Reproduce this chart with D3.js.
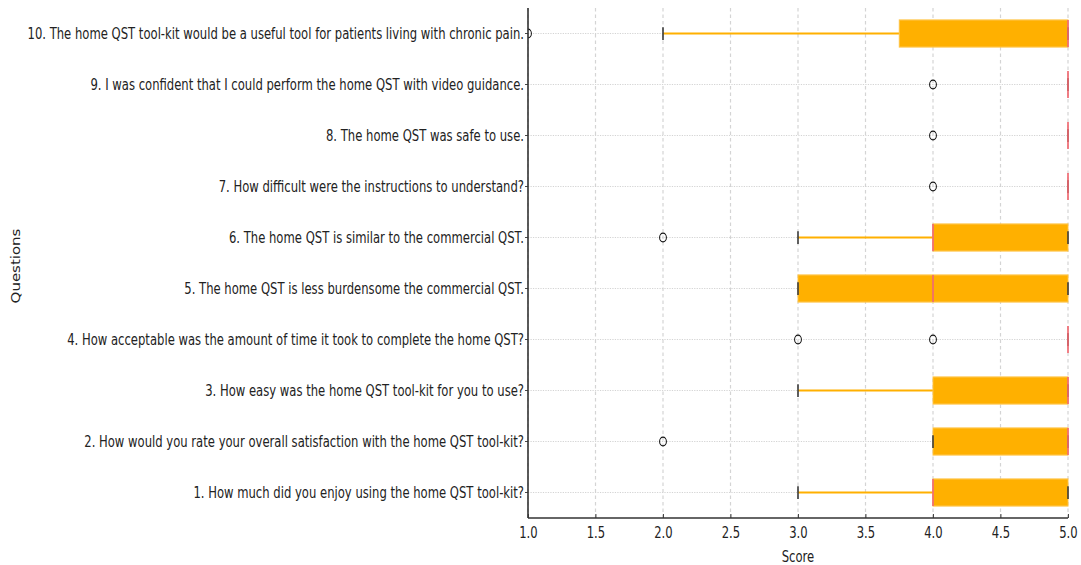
<!DOCTYPE html>
<html>
<head>
<meta charset="utf-8">
<script src="https://cdn.jsdelivr.net/npm/d3@7"></script>
<style>
  html, body { margin: 0; padding: 0; background: #fff; }
  svg { display: block; }
  text { font-family: "DejaVu Sans", sans-serif; fill: #222; }
</style>
</head>
<body>
<svg id="chart" width="1081" height="565"></svg>
<script>
// Survey questions, bottom to top as drawn (question 1 at the bottom)
const questions = [
  "1. How much did you enjoy using the home QST tool-kit?",
  "2. How would you rate your overall satisfaction with the home QST tool-kit?",
  "3. How easy was the home QST tool-kit for you to use?",
  "4. How acceptable was the amount of time it took to complete the home QST?",
  "5. The home QST is less burdensome the commercial QST.",
  "6. The home QST is similar to the commercial QST.",
  "7. How difficult were the instructions to understand?",
  "8. The home QST was safe to use.",
  "9. I was confident that I could perform the home QST with video guidance.",
  "10. The home QST tool-kit would be a useful tool for patients living with chronic pain."
];

// Box-plot statistics per question (same order as above)
const whiskerLow  = [3, 4, 3, 5, 3, 3, 5, 5, 5, 2];
const q1          = [4, 4, 4, 5, 3, 4, 5, 5, 5, 3.75];
const median      = [4, 5, 5, 5, 4, 4, 5, 5, 5, 5];
const q3          = [5, 5, 5, 5, 5, 5, 5, 5, 5, 5];
const whiskerHigh = [5, 5, 5, 5, 5, 5, 5, 5, 5, 5];
const outliers    = [[], [2], [], [3, 4], [], [2], [4], [4], [4], [1]];

const xTicks = [1.0, 1.5, 2.0, 2.5, 3.0, 3.5, 4.0, 4.5, 5.0];

const svg = d3.select("#chart");
const FONT = 15;

// Horizontal compression of the whole figure: the longest question label
// is fitted into the space left of the axis.
const probe = svg.append("text").style("font-size", FONT + "px").text(questions[9]);
const probeW = probe.node().getComputedTextLength();
probe.remove();
const labelLeft = 26, labelRight = 523;
const k = (labelRight - labelLeft) / probeW;

// Figure geometry (screen pixels), converted into the stretched space
const plotLeft = 528, plotRight = 1068, plotTop = 8, plotBottom = 518;
const X = v => v / k;

const root = svg.append("g").attr("transform", `scale(${k},1)`);

const rows = d3.range(questions.length);
const y = d3.scaleBand()
  .domain(rows.map(i => questions[i]).reverse())
  .range([plotTop, plotBottom])
  .paddingInner(0).paddingOuter(0);
const yc = i => y(questions[i]) + y.bandwidth() / 2;

const x = d3.scaleLinear().domain([1, 5]).range([X(plotLeft), X(plotRight)]);

const boxH = y.bandwidth() * 0.53;
const capH = y.bandwidth() * 0.25;

// Grid
const grid = root.append("g");
grid.selectAll("line.vgrid").data(xTicks).join("line")
  .attr("x1", d => x(d)).attr("x2", d => x(d))
  .attr("y1", plotTop).attr("y2", plotBottom)
  .attr("stroke", "#d4d4d4").attr("stroke-width", 1.2 / k)
  .attr("stroke-dasharray", "3.5,3");
grid.selectAll("line.hgrid").data(rows).join("line")
  .attr("x1", X(plotLeft)).attr("x2", X(plotRight))
  .attr("y1", d => yc(d)).attr("y2", d => yc(d))
  .attr("stroke", "#cfcfcf").attr("stroke-width", 1)
  .attr("stroke-dasharray", "1.6,1.6");

// Clip to the plotting area
root.append("clipPath").attr("id", "plotClip")
  .append("rect")
  .attr("x", X(plotLeft)).attr("y", plotTop)
  .attr("width", X(plotRight + 1.2) - X(plotLeft)).attr("height", plotBottom - plotTop);

const marks = root.append("g").attr("clip-path", "url(#plotClip)");
const orange = "#ffb000";

// Whiskers
const whiskers = marks.append("g");
whiskers.selectAll("line.lo").data(rows).join("line")
  .attr("x1", i => x(whiskerLow[i])).attr("x2", i => x(q1[i]))
  .attr("y1", yc).attr("y2", yc)
  .attr("stroke", orange).attr("stroke-width", 2);
whiskers.selectAll("line.hi").data(rows).join("line")
  .attr("x1", i => x(q3[i])).attr("x2", i => x(whiskerHigh[i]))
  .attr("y1", yc).attr("y2", yc)
  .attr("stroke", orange).attr("stroke-width", 2);

// Boxes
marks.append("g").selectAll("rect").data(rows.filter(i => q3[i] > q1[i])).join("rect")
  .attr("x", i => x(q1[i]))
  .attr("width", i => x(q3[i]) - x(q1[i]))
  .attr("y", i => yc(i) - boxH / 2)
  .attr("height", boxH)
  .attr("fill", orange)
  .attr("stroke", "#ffc445").attr("stroke-width", 1.2);

// Caps
const caps = marks.append("g");
[whiskerLow, whiskerHigh].forEach(arr => {
  caps.append("g").selectAll("line").data(rows).join("line")
    .attr("x1", i => x(arr[i])).attr("x2", i => x(arr[i]))
    .attr("y1", i => yc(i) - capH / 2).attr("y2", i => yc(i) + capH / 2)
    .attr("stroke", "#3a3a3a").attr("stroke-width", 1.6 / k);
});

// Medians
marks.append("g").selectAll("line").data(rows).join("line")
  .attr("x1", i => x(median[i])).attr("x2", i => x(median[i]))
  .attr("y1", i => yc(i) - boxH / 2).attr("y2", i => yc(i) + boxH / 2)
  .attr("stroke", "#f06b73").attr("stroke-width", 1.7 / k);

// Outliers
const fl = marks.append("g");
rows.forEach(i => {
  fl.append("g").selectAll("circle").data(outliers[i]).join("circle")
    .attr("cx", v => x(v)).attr("cy", yc(i)).attr("r", 4.4)
    .attr("fill", "none").attr("stroke", "#111").attr("stroke-width", 1.3);
});

// Axes
const yAxis = root.append("g")
  .attr("transform", `translate(${X(plotLeft)},0)`)
  .call(d3.axisLeft(y).tickSize(3 / k).tickPadding(1 / k));
yAxis.select(".domain").attr("stroke", "#333").attr("stroke-width", 1.6 / k)
  .attr("d", `M0,${plotTop}V${plotBottom}`);
yAxis.selectAll(".tick line").attr("stroke", "#333").attr("stroke-width", 1);
yAxis.selectAll(".tick text")
  .style("font-size", FONT + "px").style("font-family", "DejaVu Sans, sans-serif")
  .attr("fill", "#222").attr("dy", "0.34em");

const xAxis = root.append("g")
  .attr("transform", `translate(0,${plotBottom})`)
  .call(d3.axisBottom(x).tickValues(xTicks).tickFormat(d3.format(".1f"))
        .tickSizeInner(-4).tickSizeOuter(0).tickPadding(9));
xAxis.select(".domain").attr("stroke", "#333").attr("stroke-width", 1.6)
  .attr("d", `M${X(plotLeft)},0H${X(plotRight)}`);
xAxis.selectAll(".tick line").attr("stroke", "#333").attr("stroke-width", 1 / k);
xAxis.selectAll(".tick text")
  .style("font-size", FONT + "px").style("font-family", "DejaVu Sans, sans-serif")
  .attr("fill", "#222");

// Axis titles
root.append("text")
  .attr("x", (X(plotLeft) + X(plotRight)) / 2).attr("y", 562)
  .attr("text-anchor", "middle").style("font-size", FONT + "px")
  .text("Score");
root.append("text")
  .attr("transform", `translate(${X(20)},${(plotTop + plotBottom) / 2 + 3}) rotate(-90)`)
  .attr("text-anchor", "middle").style("font-size", FONT + "px")
  .text("Questions");
</script>
</body>
</html>
